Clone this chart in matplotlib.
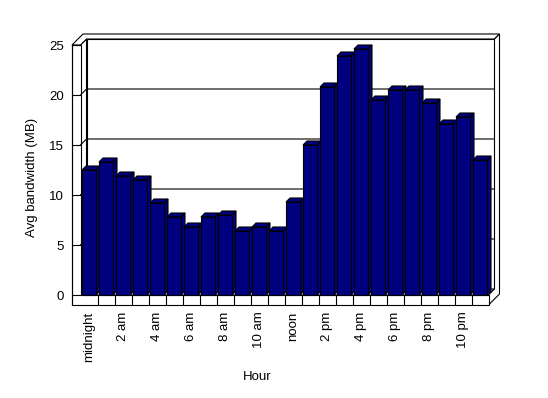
import numpy as np
import matplotlib.pyplot as plt
from matplotlib.patches import Polygon

plt.rcParams['font.family'] = ['Liberation Sans', 'DejaVu Sans']
plt.rcParams['font.size'] = 9.5

# hourly averages, midnight .. 11 pm
hours = list(range(24))
bandwidth = [12.5, 13.3, 11.9, 11.5, 9.2, 7.8, 6.8, 7.8, 8.0, 6.4, 6.8, 6.4,
             9.3, 15.0, 20.8, 23.9, 24.6, 19.5, 20.5, 20.5, 19.2, 17.1, 17.8, 13.5]
tick_pos = list(range(0, 24, 2))
tick_labels = ['midnight', '2 am', '4 am', '6 am', '8 am', '10 am',
               'noon', '2 pm', '4 pm', '6 pm', '8 pm', '10 pm']
y_ticks = [0, 5, 10, 15, 20, 25]

W, H = 548, 398
fig = plt.figure(figsize=(W / 100, H / 100), dpi=100)
fig.patch.set_facecolor('white')
# front plane of the 3D box
ax = fig.add_axes([80.5 / W, 103 / H, 408 / W, 250 / H])
ax.set_xlim(-0.5, 23.5)
ax.set_ylim(0, 25)
ax.patch.set_alpha(0)

PX = 1 / 17.0   # category units per pixel
PY = 1 / 10.0   # value units per pixel
lw = 0.8
navy = '#000080'


def P(x, y, z):
    # oblique projection: depth goes up and to the right
    return (x + z * PX, y + z * PY)


def face(pts, fc='white', z=1):
    ax.add_patch(Polygon(pts, closed=True, facecolor=fc, edgecolor='black',
                         linewidth=lw, zorder=z, clip_on=False, joinstyle='miter'))


x_in, x_r = -0.5, 23.5
x_out = x_in - 8.5 * PX
top, bot = 25, -1.0
d_in, d_out = 6, 11

# back wall, inner face + gridlines
face([P(x_in, 0, d_in), P(x_r, 0, d_in), P(x_r, top, d_in), P(x_in, top, d_in)])
# left wall inner face
face([P(x_in, 0, 0), P(x_in, 0, d_in), P(x_in, top, d_in), P(x_in, top, 0)])
for v in y_ticks[1:-1]:
    xs, ys = zip(P(x_in, v, 0), P(x_in, v, d_in), P(x_r, v, d_in))
    ax.plot(xs, ys, color='black', lw=lw, zorder=1.5, clip_on=False)
# floor top
face([P(x_in, 0, 0), P(x_r, 0, 0), P(x_r, 0, d_in), P(x_in, 0, d_in)])
# rim on top of the walls
face([P(x_out, top, 0), P(x_in, top, 0), P(x_in, top, d_in), P(x_r, top, d_in),
      P(x_r, top, d_out), P(x_out, top, d_out)])
# right side of back wall and floor
face([P(x_r, bot, 0), P(x_r, bot, d_out), P(x_r, top, d_out), P(x_r, top, d_in),
      P(x_r, 0, d_in), P(x_r, 0, 0)])
# front face of left wall + floor
face([P(x_out, bot, 0), P(x_r, bot, 0), P(x_r, 0, 0), P(x_in, 0, 0),
      P(x_in, top, 0), P(x_out, top, 0)])
for k in range(23):
    ax.plot([k + 0.5, k + 0.5], [bot, 0], color='black', lw=lw, zorder=2,
            clip_on=False)

# bars
bw = 14 * PX
bd = 4
ax.bar(hours, bandwidth, width=bw, color=navy, edgecolor='black',
       linewidth=lw, zorder=4, clip_on=False)
for i, v in zip(hours, bandwidth):
    l, r = i - bw / 2, i + bw / 2
    face([P(r, 0, 0), P(r, 0, bd), P(r, v, bd), P(r, v, 0)], navy, 3)
    face([P(l, v, 0), P(r, v, 0), P(r, v, bd), P(l, v, bd)], navy, 3)

# axes, ticks, labels
for s in ['top', 'right', 'bottom']:
    ax.spines[s].set_visible(False)
ax.spines['left'].set_position(('outward', 8.5 * 0.72))
ax.spines['left'].set_bounds(bot, top)
ax.spines['left'].set_linewidth(lw)
ax.spines['left'].set_zorder(2.5)
ax.set_yticks(y_ticks)
ax.tick_params(axis='y', direction='in', length=8.5 * 0.72, width=lw, pad=6)
ax.set_xticks(tick_pos, tick_labels, rotation=90)
ax.tick_params(axis='x', length=0, pad=12)

ax.set_xlabel('Hour', va='center')
ax.xaxis.set_label_coords(0.432, -0.329)
ax.set_ylabel('Avg bandwidth (MB)', va='center')
ax.yaxis.set_label_coords(-0.12, 0.472)

fig.savefig('out.png', dpi=100, facecolor='white')
